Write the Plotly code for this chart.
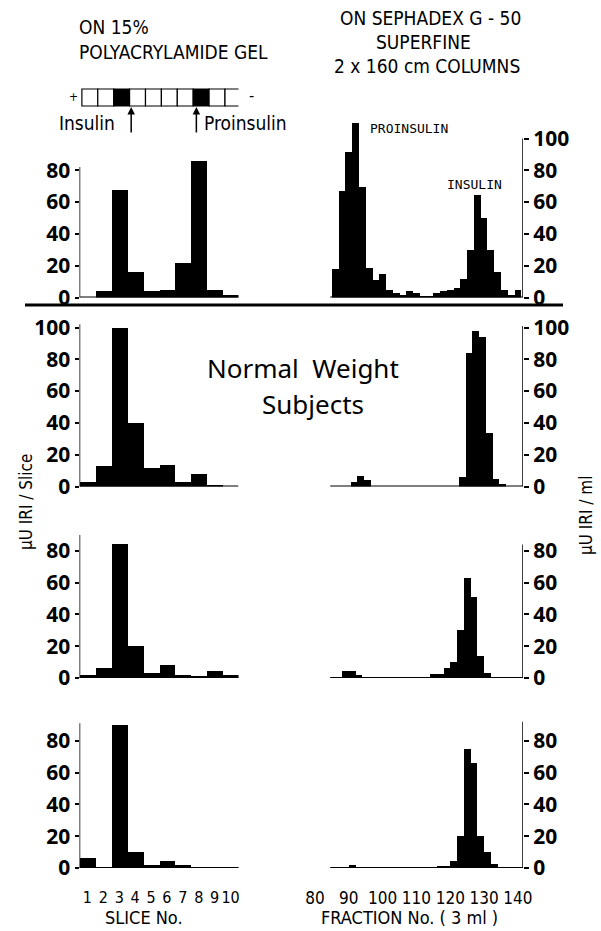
import plotly.graph_objects as go

W, H = 601, 931

# ---------------- data ----------------
slices = [1, 2, 3, 4, 5, 6, 7, 8, 9, 10]
slice_tick_labels = ["1", "2", "3", "4", "5", "6", "7", "8", "9", "10"]
gel_band_slices = [3, 8]

# polyacrylamide gel (uU IRI / slice)
gel_standard = [0, 4, 68, 16, 4, 5, 22, 86, 5, 2]
gel_subject1 = [3, 13, 100, 40, 12, 14, 3, 8, 1, 0]
gel_subject2 = [2, 6, 84, 20, 3, 8, 2, 1, 4, 2]
gel_subject3 = [6, 0, 90, 10, 2, 4, 2, 0.5, 0.5, 0.3]

# Sephadex G-50 columns (uU IRI / ml), fraction bin centres
frac_standard = [86, 88, 90, 92, 94, 96, 98, 100, 102, 104, 106, 108, 110, 112,
                 114, 116, 118, 120, 122, 124, 126, 128, 130, 132, 134, 136, 138, 140]
col_standard = [18, 67, 92, 110, 70, 19, 11, 15, 5, 3, 2, 4, 3, 1,
                1, 3, 4, 5, 6, 12, 30, 65, 50, 30, 16, 5, 2, 5]
frac_subject1 = [91.5, 93.5, 95.5, 123.5, 125.5, 127.5, 129.5, 131.5, 133.5, 135.5]
col_subject1 = [3, 7, 4, 6, 84, 98, 94, 34, 5, 2]
frac_subject2 = [89, 91, 93, 115, 117, 119, 121, 123, 125, 127, 129, 131]
col_subject2 = [4, 4, 2, 2.5, 2.5, 6, 10, 30, 63, 51, 14, 3]
frac_subject3 = [91, 117, 119, 121, 123, 125, 127, 129, 131, 133]
col_subject3 = [2, 1, 1, 4, 20, 75, 66, 20, 10, 2.5]

fraction_ticks = [80, 90, 100, 110, 120, 130, 140]

gel_rows = [gel_standard, gel_subject1, gel_subject2, gel_subject3]
col_rows = [(frac_standard, col_standard), (frac_subject1, col_subject1),
            (frac_subject2, col_subject2), (frac_subject3, col_subject3)]
left_ticks = [[0, 20, 40, 60, 80], [0, 20, 40, 60, 80, 100], [0, 20, 40, 60, 80], [0, 20, 40, 60, 80]]
right_ticks = [[0, 20, 40, 60, 80, 100], [0, 20, 40, 60, 80, 100], [0, 20, 40, 60, 80], [0, 20, 40, 60, 80]]
left_axis_top = [82, 102, 90, 91]
right_axis_top = [100, 101, 84, 92]

# ---------------- layout helpers ----------------
def py(p):
    return 1 - p / H

def pxx(p):
    return p / W

baselines = [297.5, 486.5, 678, 868]
PXU = 1.59
YMAX = 115
LEFT_DOM = [pxx(79.5), pxx(238.5)]
RIGHT_DOM = [pxx(315), pxx(523)]
LEFT_RANGE = [0.5, 10.5]
RIGHT_RANGE = [80, 141.5]

NUM_FONT = dict(family="Noto Sans", size=21, color="black", weight="bold")
TYPE_FONT = "DejaVu Sans Condensed"

fig = go.Figure()
layout = dict(width=W, height=H, margin=dict(l=0, r=0, t=0, b=0, pad=0, autoexpand=False),
              paper_bgcolor="white", plot_bgcolor="rgba(0,0,0,0)",
              showlegend=False, bargap=0)
shapes = []
annotations = []

for r in range(4):
    nl = 2 * r + 1
    nr = 2 * r + 2
    base = baselines[r]
    ydom = [py(base), py(base - PXU * YMAX)]
    bottom = (r == 3)

    fig.add_trace(go.Bar(x=slices, y=gel_rows[r], width=1, marker=dict(color="black", line=dict(width=0)),
                         xaxis=f"x{nl}", yaxis=f"y{nl}", cliponaxis=False))
    fx, fy = col_rows[r]
    fig.add_trace(go.Bar(x=fx, y=fy, width=2, marker=dict(color="black", line=dict(width=0)),
                         xaxis=f"x{nr}", yaxis=f"y{nr}", cliponaxis=False))

    common = dict(showline=False, showgrid=False, zeroline=False, automargin=False)
    xl = dict(domain=LEFT_DOM, range=LEFT_RANGE, anchor=f"y{nl}", ticks="", showticklabels=bottom, **common)
    xr = dict(domain=RIGHT_DOM, range=RIGHT_RANGE, anchor=f"y{nr}", ticks="", showticklabels=bottom, **common)
    if bottom:
        xl.update(tickmode="array", tickvals=slices, ticktext=slice_tick_labels, tickangle=0,
                  tickfont=dict(family=TYPE_FONT, size=16, color="black"), ticklabelstandoff=18)
        xr.update(tickmode="array", tickvals=fraction_ticks, tickangle=0,
                  tickfont=dict(family=TYPE_FONT, size=17, color="black"), ticklabelstandoff=18)
    yl = dict(domain=ydom, range=[0, YMAX], anchor=f"x{nl}", side="left",
              ticks="outside", ticklen=4, tickwidth=1.5, tickcolor="black",
              tickmode="array", tickvals=left_ticks[r], tickfont=NUM_FONT, **common)
    yr = dict(domain=ydom, range=[0, YMAX], anchor=f"x{nr}", side="right",
              ticks="outside", ticklen=5, tickwidth=1.5, tickcolor="black",
              tickmode="array", tickvals=right_ticks[r], tickfont=NUM_FONT, **common)
    key = lambda a, n: f"{a}axis" if n == 1 else f"{a}axis{n}"
    layout[key("x", nl)] = xl
    layout[key("x", nr)] = xr
    layout[key("y", nl)] = yl
    layout[key("y", nr)] = yr

    xref_l = "x" if nl == 1 else f"x{nl}"
    # baselines
    shapes.append(dict(type="line", xref=xref_l, yref=f"y{nl}", x0=0.5, x1=10.5, y0=0, y1=0,
                       line=dict(color="black", width=2)))
    shapes.append(dict(type="line", xref=f"x{nr}", yref=f"y{nr}", x0=84.5, x1=141.5, y0=0, y1=0,
                       line=dict(color="black", width=2)))
    # vertical axis lines
    shapes.append(dict(type="line", xref=xref_l, yref=f"y{nl}", x0=0.5, x1=0.5, y0=0, y1=left_axis_top[r],
                       line=dict(color="black", width=1.5)))
    shapes.append(dict(type="line", xref=f"x{nr}", yref=f"y{nr}", x0=141.5, x1=141.5, y0=0,
                       y1=right_axis_top[r], line=dict(color="black", width=1.5)))

# separator under the standards
shapes.append(dict(type="line", xref="paper", yref="paper", x0=pxx(25), x1=pxx(563), y0=py(305), y1=py(305),
                   line=dict(color="black", width=3)))

# gel diagram
for s in slices:
    filled = s in gel_band_slices
    shapes.append(dict(type="rect", xref="x", yref="paper", x0=s - 0.5 + 0.15, x1=s + 0.5 + 0.15,
                       y0=py(106), y1=py(89), line=dict(color="black", width=1.2),
                       fillcolor="black" if filled else "white"))

def txt(t, x, y, size=18, family=TYPE_FONT, xanchor="center", angle=0, weight="normal"):
    annotations.append(dict(text=t, x=pxx(x), y=py(y), xref="paper", yref="paper", showarrow=False,
                            xanchor=xanchor, yanchor="middle", textangle=angle,
                            font=dict(family=family, size=size, color="black", weight=weight)))

txt("ON 15%", 77, 27, size=19, xanchor="left")
txt("POLYACRYLAMIDE GEL", 77, 52, size=19, xanchor="left")
txt("ON SEPHADEX G - 50", 430, 18, size=19)
txt("SUPERFINE", 423, 42, size=19)
txt("2 x 160 cm COLUMNS", 427, 66, size=19)
txt("+", 73, 97, size=12)
txt("-", 251, 96, size=16)
txt("Insulin", 117, 123, size=19, xanchor="right")
txt("Proinsulin", 202, 123, size=19, xanchor="left")
txt("PROINSULIN", 409, 129, size=13, family="DejaVu Sans Mono")
txt("INSULIN", 474, 184, size=13, family="DejaVu Sans Mono")
txt("Normal  Weight", 303, 368, size=26, family="Noto Sans")
txt("Subjects", 313, 404, size=26, family="Noto Sans")
txt("µU IRI / Slice", 26, 502, size=17, angle=-90)
txt("µU IRI / ml", 586, 516, size=17, angle=-90)
txt("SLICE No.", 144, 917, size=18)
txt("FRACTION No. ( 3 ml )", 410, 917, size=18)

# arrows marking insulin / proinsulin positions in the gel
for xs in [3.75, 7.85]:
    annotations.append(dict(text="", x=xs, y=py(107), xref="x", yref="paper", showarrow=True,
                            ax=0, ay=27, arrowhead=2, arrowsize=1, arrowwidth=1.5, arrowcolor="black"))

layout["shapes"] = shapes
layout["annotations"] = annotations
fig.update_layout(**layout)
fig.write_html("out.html", config={"displayModeBar": False},
               post_script="document.body.style.margin='0';document.body.style.overflow='hidden';")
